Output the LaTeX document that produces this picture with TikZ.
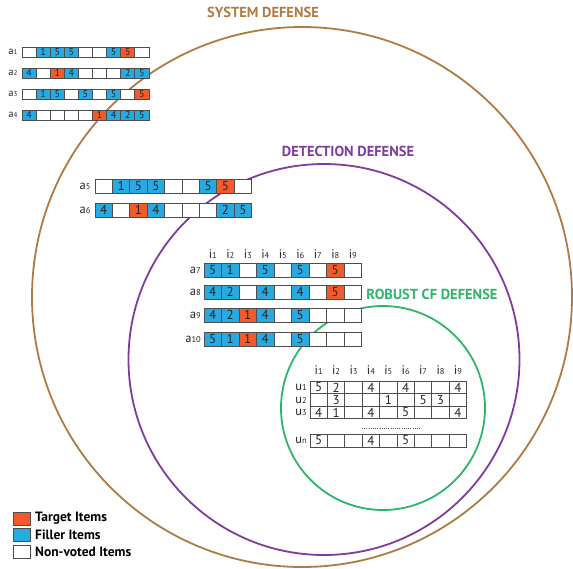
\documentclass[tikz,border=0pt]{standalone}
\usepackage{fontspec}
\setmainfont{PT Sans}
\definecolor{tgt}{HTML}{F15A2B}
\definecolor{fil}{HTML}{27AAE1}
\definecolor{sysc}{HTML}{B07A43}
\definecolor{detc}{HTML}{7F3C9E}
\definecolor{robc}{HTML}{2EB56A}
\definecolor{edge}{HTML}{4D4D4D}
\newcommand\lbl[2]{#1{\fontsize{8.5}{9}\selectfont #2}}
\newcommand\lbls[2]{#1{\fontsize{7}{8}\selectfont #2}}
% #1 name, #2 x0, #3 y centre, #4 cell width, #5 cell height, #6 font size, #7 list
\newcommand\cellrow[7]{%
  \foreach \t/\n [count=\k] in {#7} {
    \node[cell\t, minimum width=#4pt, minimum height=#5pt, font=\fontsize{#6}{#6}\selectfont]
      (#1-\k) at ({#2+(\k-0.5)*#4},#3) {\n};
  }}
\tikzset{
  cellbase/.style={draw=edge, line width=0.8pt, inner sep=0pt, outer sep=0pt, text=black!85},
  celle/.style={cellbase, fill=white},
  cellb/.style={cellbase, fill=fil},
  cello/.style={cellbase, fill=tgt},
  ring/.style={line width=1.8pt},
  title/.style={font=\bfseries\fontsize{14.5}{15}\selectfont},
  rowlab/.style={font=\fontsize{12.5}{13}\selectfont, text=black!85, inner sep=0pt},
  collab/.style={font=\fontsize{12.5}{13}\selectfont, text=black!85, inner sep=0pt},
  legbox/.style={draw=edge, line width=0.8pt, minimum width=17pt, minimum height=13pt, inner sep=0pt},
  legtext/.style={font=\bfseries\fontsize{13.5}{14}\selectfont, anchor=west, inner sep=0pt},
}
\begin{document}
\begin{tikzpicture}[x=1pt,y=-1pt]
\useasboundingbox (0,0) rectangle (573,568);
% circles
\draw[ring, sysc] (302,297) circle[radius=270pt];
\draw[ring, detc] (324,359.5) circle[radius=195.5pt];
\draw[ring, robc] (383,408) circle[radius=102pt];
% titles
\node[title, text=sysc] (tsys) at (263,12) {SYSTEM DEFENSE};
\node[title, text=detc] (tdet) at (348,151) {DETECTION DEFENSE};
\node[title, text=robc] (trob) at (432,294) {ROBUST CF DEFENSE};
% a1 - a4
\foreach \nm/\yy in {1/52,2/73,3/94,4/115}
  \node[rowlab, font=\fontsize{10.5}{11}\selectfont] (la\nm) at (13,\yy) {\lbls{a}{\nm}};
\cellrow{a1}{22}{52}{14.1}{10}{10}{e/{},b/1,b/5,b/5,e/{},e/{},b/5,o/5,e/{}}
\cellrow{a2}{22}{73}{14.1}{10}{10}{b/4,e/{},o/1,b/4,e/{},e/{},e/{},b/2,b/5}
\cellrow{a3}{22}{94}{14.1}{10}{10}{e/{},b/1,b/5,e/{},b/5,e/{},b/5,e/{},o/5}
\cellrow{a4}{22}{115}{14.1}{10}{10}{b/4,e/{},e/{},e/{},e/{},o/1,b/4,b/2,b/5}
% a5 - a6
\node[rowlab] (la5) at (85,186) {\lbl{a}{5}};
\node[rowlab] (la6) at (85,210) {\lbl{a}{6}};
\cellrow{a5}{95}{186}{17.4}{14}{13}{e/{},b/1,b/5,b/5,e/{},e/{},b/5,o/5,e/{}}
\cellrow{a6}{95}{210}{17.4}{14}{13}{b/4,e/{},o/1,b/4,e/{},e/{},e/{},b/2,b/5}
% a7 - a10
\foreach \k in {1,...,9}
  \node[collab] (ia\k) at ({204+(\k-0.5)*17.5},254) {\lbl{i}{\k}};
\node[rowlab, anchor=east] (la7) at (201,270) {\lbl{a}{7}};
\node[rowlab, anchor=east] (la8) at (201,292) {\lbl{a}{8}};
\node[rowlab, anchor=east] (la9) at (201,315) {\lbl{a}{9}};
\node[rowlab, anchor=east] (la10) at (201,339) {\lbl{a}{10}};
\cellrow{a7}{204}{270}{17.5}{14}{13}{b/5,b/1,e/{},b/5,e/{},b/5,e/{},o/5,e/{}}
\cellrow{a8}{204}{292}{17.5}{14}{13}{b/4,b/2,e/{},b/4,e/{},b/4,e/{},o/5,e/{}}
\cellrow{a9}{204}{315}{17.5}{14}{13}{b/4,b/2,o/1,b/4,e/{},b/5,e/{},e/{},e/{}}
\cellrow{a10}{204}{339}{17.5}{14}{13}{b/5,b/1,o/1,b/4,e/{},b/5,e/{},e/{},e/{}}
% user table
\foreach \k in {1,...,9}
  \node[collab] (iu\k) at ({310+(\k-0.5)*17.4},370) {\lbl{i}{\k}};
\node[rowlab, anchor=east] (lu1) at (307,387.5) {\lbl{u}{1}};
\node[rowlab, anchor=east] (lu2) at (307,400) {\lbl{u}{2}};
\node[rowlab, anchor=east] (lu3) at (307,412.5) {\lbl{u}{3}};
\node[rowlab, anchor=east] (lun) at (307,440.5) {\lbl{u}{n}};
\cellrow{u1}{310}{387.5}{17.4}{12.5}{13}{e/5,e/2,e/{},e/4,e/{},e/4,e/{},e/{},e/4}
\cellrow{u2}{310}{400}{17.4}{12.5}{13}{e/{},e/3,e/{},e/{},e/1,e/{},e/5,e/3,e/{}}
\cellrow{u3}{310}{412.5}{17.4}{12.5}{13}{e/4,e/1,e/{},e/4,e/{},e/5,e/{},e/{},e/4}
\cellrow{un}{310}{440.5}{17.4}{13}{13}{e/5,e/{},e/{},e/4,e/{},e/5,e/{},e/{},e/{}}
\coordinate (dots1) at (362,428.5);
\coordinate (dots2) at (420,428.5);
\draw[line width=0.9pt, dash pattern=on 0.9pt off 1.3pt, edge] (dots1) -- (dots2);
% legend
\node[legbox, fill=tgt] (k1) at (22,518.5) {};
\node[legbox, fill=fil] (k2) at (22,535) {};
\node[legbox, fill=white] (k3) at (22,552) {};
\node[legtext] (t1) at (35,518.5) {Target Items};
\node[legtext] (t2) at (35,535) {Filler Items};
\node[legtext] (t3) at (35,552) {Non-voted Items};
\end{tikzpicture}
\end{document}
